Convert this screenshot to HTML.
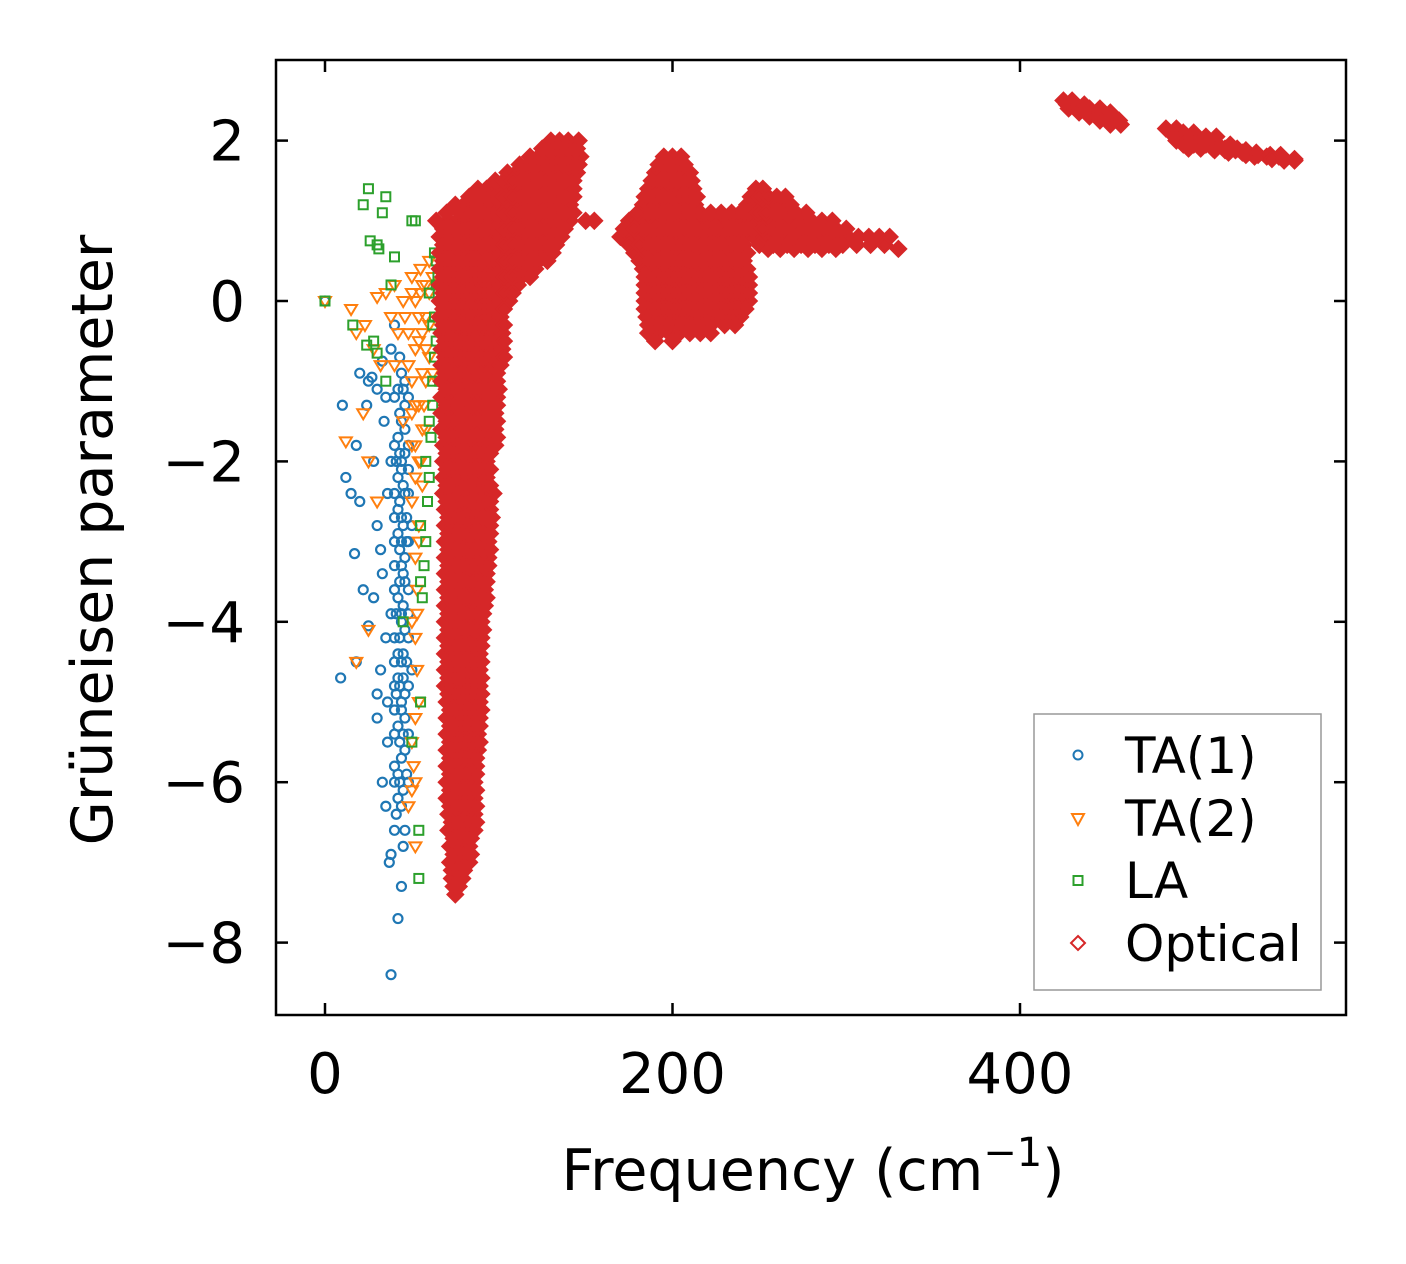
<!DOCTYPE html>
<html><head><meta charset="utf-8"><style>
body{margin:0;background:#fff}
svg{display:block}
text{font-family:"DejaVu Sans","Liberation Sans",sans-serif;fill:#000}
</style></head><body>
<svg id="chart" width="1406" height="1264" viewBox="0 0 1406 1264" xmlns="http://www.w3.org/2000/svg">
<rect width="1406" height="1264" fill="#fff"/>
<g id="marks"></g>
<rect x="276" y="60" width="1070" height="955" fill="none" stroke="#000" stroke-width="2.5"/>
<g id="ticks"></g>
<text x="813" y="1190" font-size="57" text-anchor="middle">Frequency (cm<tspan dy="-24" font-size="40">−1</tspan><tspan dy="24">)</tspan></text>
<text transform="translate(112,540) rotate(-90)" font-size="57" text-anchor="middle">Grüneisen parameter</text>
<g>
<rect x="1034" y="714" width="287" height="276" fill="#fff" stroke="#999" stroke-width="1.5"/>
<circle cx="1078" cy="755" r="4.5" fill="none" stroke="#1f77b4" stroke-width="2"/>
<text x="1125" y="773" font-size="50">TA(1)</text>
<path d="M1072,814 L1084,814 L1078,825 Z" fill="none" stroke="#ff7f0e" stroke-width="2"/>
<text x="1125" y="836" font-size="50">TA(2)</text>
<rect x="1073.5" y="876" width="9" height="9" fill="none" stroke="#2ca02c" stroke-width="2"/>
<text x="1125" y="898" font-size="50">LA</text>
<path d="M1078,936 L1085,943 L1078,950 L1071,943 Z" fill="none" stroke="#d62728" stroke-width="2"/>
<text x="1125" y="961" font-size="50">Optical</text>
</g>
</svg>
<script>
const xTicks=[0,200,400];
const yTicks=[2,0,-2,-4,-6,-8];
const yTickLabels=["2","0","−2","−4","−6","−8"];
const ta1=[[0,0],[10,-1.3],[9,-4.7],[18,-4.5],[25,-4.05],[30,-5.2],[30,-4.9],[32,-4.6],[33,-6],[35,-6.3],[38,-8.4],[42,-7.7],[37,-7.0],[44,-7.3],[15,-2.4],[12,-2.2],[18,-1.8],[20,-0.9],[25,-1.0],[28,-2.0],[30,-2.8],[20,-2.5],[17,-3.15],[22,-3.6],[28,-3.7],[32,-3.1],[34,-1.5],[35,-1.2],[30,-1.1],[40,-0.3],[38,-6.9],[45,-6.8],[46,-6.6],[40,-5.8],[36,-5.5],[35,-4.2],[33,-3.4],[36,-2.4],[24,-1.3],[27,-0.95],[33,-0.75],[38,-0.6],[43,-0.7],[46,-1.0],
[40,-6.6],[44,-6.3],[48,-6.0],[40,-6.0],[44,-5.7],[48,-5.4],[40,-5.4],[44,-5.1],[48,-4.8],[40,-4.8],[44,-4.5],[48,-4.2],[40,-4.2],[44,-3.9],[48,-3.6],[40,-3.6],[44,-3.3],[48,-3.0],[40,-3.0],[44,-2.7],[48,-2.4],[40,-2.4],[44,-2.1],[48,-1.8],[40,-1.8],[44,-1.5],[48,-1.2],[40,-1.2],[44,-0.9],[42,-6.2],[46,-5.2],[42,-4.4],[46,-3.5],[42,-2.6],[46,-1.6],[50,-2.8],[50,-4.6],[38,-3.9],[38,-2.0],[36,-5.0],
[42,-5.9],[46,-5.6],[42,-5.3],[46,-4.9],[42,-4.7],[46,-4.1],[42,-3.7],[46,-3.2],[42,-2.9],[46,-2.4],[42,-2.2],[46,-1.9],[42,-1.7],[46,-1.3],[42,-1.1],[44,-4.0],[44,-3.0],[44,-2.0],[44,-5.0],[40,-5.1],[48,-3.9],[48,-2.1],[40,-2.7],[40,-3.3],[40,-4.5],
[43,-1.9],[45,-2.3],[43,-2.5],[45,-2.8],[43,-3.1],[45,-3.4],[43,-3.5],[45,-3.8],[43,-4.2],[45,-4.4],[43,-4.8],[45,-4.7],[43,-5.5],[45,-5.4],[41,-3.9],[47,-2.7],[41,-2.0],[47,-3.0],[41,-4.9],[47,-4.5],[43,-6.0],[45,-6.1],[41,-6.4],[47,-5.9],[43,-1.4],[45,-1.1]];
const ta2=[[0,0],[15,-0.1],[18,-0.4],[23,-0.3],[28,-0.6],[30,0.05],[35,0.1],[32,-0.8],[40,0.2],[45,0.0],[50,0.3],[55,0.4],[60,0.5],[55,0.1],[60,-0.3],[58,-0.6],[62,-0.9],[57,-1.3],[55,-2.0],[50,-2.5],[52,-3.2],[50,-4.0],[52,-4.2],[53,-4.6],[50,-5.5],[52,-6.0],[48,-6.3],[52,-6.8],[12,-1.75],[22,-1.4],[25,-2.0],[30,-2.5],[25,-4.1],[18,-4.5],[40,-0.8],[45,-1.5],
[50,0.1],[54,-0.2],[58,0.2],[48,-0.4],[52,-0.6],[56,-0.9],[50,-1.0],[54,-1.3],[58,-1.6],[52,-1.8],[56,-2.3],[54,-2.8],[53,-3.6],[54,-5.0],[51,-5.8],[50,-1.8],[46,-0.2],[42,-0.4],[38,-0.2],[60,0.1],[62,0.3],
[52,0.0],[56,0.2],[58,-0.2],[54,-0.5],[58,-1.0],[52,-1.3],[56,-1.6],[54,-2.0],[52,-2.2],[50,-1.4],[48,-0.8],[56,-0.4],[60,-0.7],[54,-3.0],[53,-3.9],[52,-5.2],[50,-6.1]];
const la=[[0,0],[25,1.4],[22,1.2],[35,1.3],[33,1.1],[26,0.75],[30,0.7],[31,0.65],[40,0.55],[38,0.2],[52,1.0],[50,1.0],[63,0.6],[64,0.5],[60,0.1],[16,-0.3],[24,-0.55],[28,-0.5],[30,-0.65],[35,-1.0],[62,-1.0],[63,-0.7],[60,-1.5],[58,-2.0],[55,-2.8],[55,-3.5],[56,-3.7],[55,-5.0],[54,-6.6],[54,-7.2],[50,-5.5],[45,-4.0],
[64,0.2],[63,-0.2],[64,-0.5],[62,-1.3],[61,-1.7],[60,-2.2],[59,-2.5],[58,-3.0],[57,-3.3],[62,-0.3],[65,0.3],[66,-1.0]];
const opticalRows=[
[-7.4,[75]],[-7.2,[73,79]],[-7.0,[72,78,83]],[-6.8,[72,77,83]],[-6.6,[71,76,81,86]],[-6.4,[71,76,81,86]],[-6.2,[70,75,80,86]],[-6.0,[70,75,80,86]],[-5.8,[70,75,80,87]],[-5.6,[70,75,80,85,88]],[-5.4,[70,75,80,85,88]],[-5.2,[70,75,80,85,89]],[-5.0,[70,75,80,85,89]],[-4.8,[69,74,79,84,89]],[-4.6,[69,74,79,84,89]],[-4.4,[69,74,79,84,89]],[-4.2,[69,74,79,84,90]],[-4.0,[69,74,79,84,90]],[-3.8,[69,74,79,84,89,92]],[-3.6,[69,74,79,84,89,92]],[-3.4,[69,74,79,84,89,93]],[-3.2,[69,74,79,84,89,94]],[-3.0,[69,74,79,84,89,94]],[-2.8,[69,74,79,84,89,95]],[-2.6,[69,74,79,84,89,95]],[-2.4,[68,73,78,83,88,93,97]],[-2.2,[68,73,78,83,88,93]],[-2.0,[68,73,78,83,88,93]],[-1.8,[68,73,78,83,88,93,98]],[-1.6,[67,72,77,82,87,92,98]],[-1.4,[67,72,77,82,87,92,98]],[-1.2,[67,72,77,82,87,92,99]],[-1.0,[67,72,77,82,87,92,99]],[-0.8,[67,72,77,82,87,92,97,101]],[-0.6,[67,72,77,82,87,92,97,102]],[-0.4,[67,72,77,82,87,92,97,102]],[-0.2,[66,71,76,81,86,91,96,101]],[0.0,[66,71,76,81,86,91,96,101,106]],[0.2,[66,71,76,81,86,91,96,101,106,111]],[0.4,[66,71,76,81,86,91,96,101,106,111,116,121]],[0.6,[66,71,76,81,86,91,96,101,106,111,116,121,126,131]],[0.8,[66,71,76,81,86,91,96,101,106,111,116,121,126,131,136]],[1.0,[64,71,76,81,86,91,96,101,106,111,116,121,126,131,136,141,150,155]],[1.2,[75,80,86,91,96,101,106,111,116,121,126,131,136,141]],[1.4,[88,93,98,103,108,113,118,123,128,133,138,143]],[1.6,[105,110,115,120,125,130,135,140,145]],[1.8,[118,123,128,133,138,143,147]],[2.0,[130,135,140,146]],
[1.8,[195,200,205]],[1.6,[190,195,200,205,210]],[1.4,[186,191,196,201,206,212]],[1.2,[183,188,193,198,203,208,213]],[1.0,[175,180,185,190,195,200,205,210,215,220,225,230,236,241]],[0.8,[170,176,182,188,194,200,206,212,218,224,230,236,242]],[0.6,[178,184,190,196,202,208,214,220,226,232,238,243]],[0.4,[183,189,195,201,207,213,219,225,231,237,243]],[0.2,[184,190,196,202,208,214,220,226,232,238,244]],[0.0,[184,190,196,202,208,214,220,226,232,238,244]],[-0.2,[185,191,197,203,209,215,221,227,233,239]],[-0.4,[186,192,198,204,210,216,222]],[-0.5,[190,200]],
[1.4,[248,252]],[1.2,[243,248,253,258,262,268]],[1.0,[245,250,256,262,268,274,280,286,292]],[0.8,[247,253,259,265,271,277,283,289,295,301,307,313,319,325]],[0.65,[255,262,270,278,286,294,330]],
[2.5,[425,430]],[2.4,[428,434,440,446]],[2.3,[440,447,454]],[2.2,[452,458]],[2.15,[484,490]],[2.1,[488,494,500]],[2.0,[490,496,502,508]],[1.9,[497,504,511,518,525]],[1.85,[520,528,536]],[1.8,[535,542,549]],[1.75,[552,558]]];
const opticalRowsMid=[
[-7.3,[74,77]],[-7.1,[73,76,80]],[-6.9,[74,79,84]],[-6.7,[74,79,84]],[-6.5,[73,78,83,87]],[-6.3,[72,77,82,87]],[-6.1,[72,77,82,87]],[-5.9,[72,77,82,87]],[-5.7,[72,77,82,87]],[-5.5,[72,77,82,87,89]],[-5.3,[72,77,82,87,89]],[-5.1,[72,77,82,87,90]],[-4.9,[71,76,81,86,90]],[-4.7,[71,76,81,86,90]],[-4.5,[71,76,81,86,90]],[-4.3,[71,76,81,86,90]],[-4.1,[71,76,81,86,91]],[-3.9,[71,76,81,86,91]],[-3.7,[71,76,81,86,91,93]],[-3.5,[71,76,81,86,91,93]],[-3.3,[71,76,81,86,91,94]],[-3.1,[71,76,81,86,91,95]],[-2.9,[71,76,81,86,91,95]],[-2.7,[71,76,81,86,91,96]],[-2.5,[70,75,80,85,90,95]],[-2.3,[70,75,80,85,90,95]],[-2.1,[70,75,80,85,90,95]],[-1.9,[70,75,80,85,90,95]],[-1.7,[70,75,80,85,90,95,99]],[-1.5,[70,75,80,85,90,95,99]],[-1.3,[70,75,80,85,90,95,99]],[-1.1,[70,75,80,85,90,95,100]],[-0.9,[69,74,79,84,89,94,99]],[-0.7,[69,74,79,84,89,94,99,103]],[-0.5,[69,74,79,84,89,94,99,103]],[-0.3,[68,73,78,83,88,93,98,103]],[-0.1,[68,73,78,83,88,93,98,103]],[0.1,[68,73,78,83,88,93,98,103,108]],[0.3,[68,73,78,83,88,93,98,103,108,113,118]],[0.5,[68,73,78,83,88,93,98,103,108,113,118,123,128]],[0.7,[68,73,78,83,88,93,98,103,108,113,118,123,128,133]],[0.9,[68,73,78,83,88,93,98,103,108,113,118,123,128,133,138]],[1.1,[70,78,83,88,93,98,103,108,113,118,123,128,133,138,143]],[1.3,[83,88,93,98,103,108,113,118,123,128,133,138,143]],[1.5,[98,103,108,113,118,123,128,133,138,143]],[1.7,[112,117,122,127,132,137,142,146]],[1.9,[125,130,135,140,145]],
[1.7,[192,198,203,207]],[1.5,[188,193,198,203,208,211]],[1.3,[184,190,195,200,205,210,214]],[1.1,[180,186,192,198,204,210,216,222,228,234,239]],[0.9,[172,178,184,190,196,202,208,214,220,226,232,238,243]],[0.7,[175,181,187,193,199,205,211,217,223,229,235,241]],[0.5,[181,187,193,199,205,211,217,223,229,235,241]],[0.3,[184,190,196,202,208,214,220,226,232,238,244]],[0.1,[184,190,196,202,208,214,220,226,232,238,244]],[-0.1,[184,190,196,202,208,214,220,226,232,238,242]],[-0.3,[186,192,198,204,210,216,222,230,236]],
[1.3,[245,250,255,260,265]],[1.1,[244,249,254,259,265,271,277]],[0.9,[246,252,258,264,270,276,282,288,294,300]],[0.7,[250,258,266,274,282,290,298,306,314,322]],
[2.45,[427,432,437]],[2.35,[434,440,446,452]],[2.25,[446,452,457]],[2.05,[489,495,501,507,513]],[1.95,[494,500,507,514,521]],[1.88,[512,518,524,530]],[1.82,[530,537,544,550]],[1.77,[545,552,558]]];

const X0=325,XS=(1020-325)/400,Y0=301,YS=(943-141)/10;
const xScale=v=>X0+v*XS, yScale=v=>Y0-v*YS;
const NS="http://www.w3.org/2000/svg";
const marks=document.getElementById('marks'), ticks=document.getElementById('ticks');
function mk(tag,attrs,parent){const e=document.createElementNS(NS,tag);for(const k in attrs)e.setAttribute(k,attrs[k]);parent.appendChild(e);return e;}
ta1.forEach(p=>{const e=mk('circle',{cx:xScale(p[0]),cy:yScale(p[1]),r:4.5,fill:'none',stroke:'#1f77b4','stroke-width':2.2},marks);

});
ta2.forEach(p=>{const x=xScale(p[0]),y=yScale(p[1]);const e=mk('path',{d:`M${x-6},${y-4} L${x+6},${y-4} L${x},${y+6} Z`,fill:'none',stroke:'#ff7f0e','stroke-width':2},marks);

});
la.forEach(p=>{const x=xScale(p[0]),y=yScale(p[1]);const e=mk('rect',{x:x-4.5,y:y-4.5,width:9,height:9,fill:'none',stroke:'#2ca02c','stroke-width':2},marks);

});
[opticalRows,opticalRowsMid].forEach(rows=>rows.forEach(r=>r[1].forEach(xv=>{const x=xScale(xv),y=yScale(r[0]);const e=mk('path',{d:`M${x},${y-7.5} L${x+7.5},${y} L${x},${y+7.5} L${x-7.5},${y} Z`,fill:'#d62728',stroke:'#d62728','stroke-width':2.5},marks);

})));
xTicks.forEach(v=>{const x=xScale(v);
mk('line',{x1:x,x2:x,y1:1015,y2:1003,stroke:'#000','stroke-width':2.5},ticks);
mk('line',{x1:x,x2:x,y1:60,y2:72,stroke:'#000','stroke-width':2.5},ticks);
const t=mk('text',{x:x,y:1093,'font-size':56,'text-anchor':'middle'},ticks);t.textContent=v;

});
yTicks.forEach((v,i)=>{const y=yScale(v);
mk('line',{x1:276,x2:288,y1:y,y2:y,stroke:'#000','stroke-width':2.5},ticks);
mk('line',{x1:1346,x2:1334,y1:y,y2:y,stroke:'#000','stroke-width':2.5},ticks);
const t=mk('text',{x:245,y:y+20,'font-size':56,'text-anchor':'end'},ticks);t.textContent=yTickLabels[i];

});
</script>
</body></html>
